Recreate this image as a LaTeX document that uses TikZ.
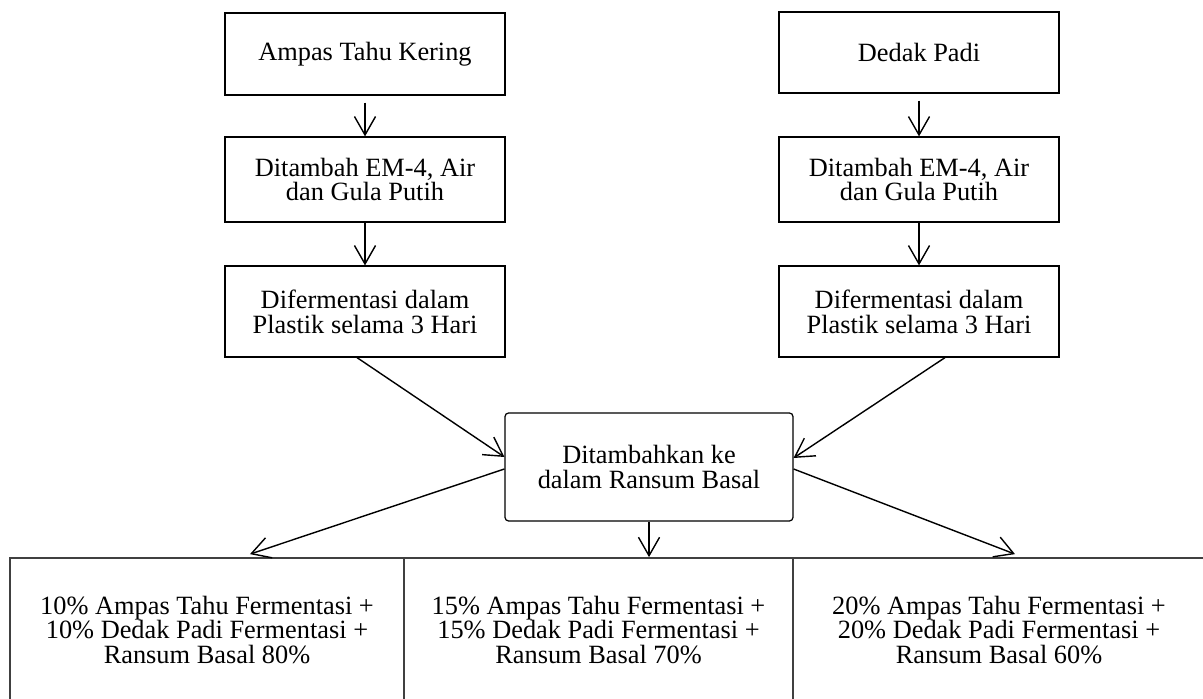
\documentclass[tikz,border=0pt]{standalone}
\usepackage{fontspec}
\setmainfont{Liberation Serif}
\usetikzlibrary{arrows.meta}

\begin{document}
\begin{tikzpicture}[x=0.02cm,y=0.02cm,->,>={Straight Barb[length=10.5pt,width=12pt]},line width=0.8pt]
  \tikzstyle{box}=[draw,align=center,minimum width=5.6cm,line width=0.7pt,font=\fontsize{15pt}{14.2pt}\selectfont]
  \tikzstyle{result}=[draw=black!75,align=center,minimum height=2.88cm,line width=1pt,font=\fontsize{15pt}{14.2pt}\selectfont]
  \useasboundingbox (0,0) rectangle (1203,699);
  \clip (0,0) rectangle (1203,699);

  \node[box,minimum height=1.64cm] (L_1) at (365,645) {Ampas Tahu Kering};
  \node[box,minimum height=1.7cm] (L_2) at (365,519.5) {Ditambah EM-4, Air\\dan Gula Putih};
  \node[box,minimum height=1.82cm] (L_3) at (365,387.5) {Difermentasi dalam\\Plastik selama 3 Hari};
  \node[box,minimum height=1.62cm] (R_1) at (919,646.5) {Dedak Padi};
  \node[box,minimum height=1.7cm] (R_2) at (919,519.5) {Ditambah EM-4, Air\\dan Gula Putih};
  \node[box,minimum height=1.82cm] (R_3) at (919,387.5) {Difermentasi dalam\\Plastik selama 3 Hari};
  \node[box,rounded corners=2pt,minimum width=5.76cm,minimum height=2.16cm] (C) at (649,232) {Ditambahkan ke\\dalam Ransum Basal};

  \node[result,minimum width=7.88cm] (B_1) at (207,69) {10\% Ampas Tahu Fermentasi +\\10\% Dedak Padi Fermentasi +\\Ransum Basal 80\%};
  \node[result,minimum width=7.78cm] (B_2) at (598.5,69) {15\% Ampas Tahu Fermentasi +\\15\% Dedak Padi Fermentasi +\\Ransum Basal 70\%};
  \node[result,minimum width=8.24cm] (B_3) at (999,69) {20\% Ampas Tahu Fermentasi +\\20\% Dedak Padi Fermentasi +\\Ransum Basal 60\%};

  \draw[shorten <=4pt] (L_1) -- (L_2);
  \draw (L_2) -- (L_3);
  \draw[shorten <=4pt] (R_1) -- (R_2);
  \draw (R_2) -- (R_3);

  \draw ([xshift=-0.16cm]L_3.south) -- ([yshift=0.2cm]C.west);
  \draw ([xshift=0.52cm]R_3.south) -- ([yshift=0.18cm]C.east);

  \draw ([yshift=-0.04cm]C.west) -- ([xshift=0.86cm,yshift=0.06cm]B_1.north);
  \draw (C) -- (C |- B_2.north);
  \draw ([yshift=-0.04cm]C.east) -- ([xshift=0.32cm,yshift=0.06cm]B_3.north);
\end{tikzpicture}
\end{document}
